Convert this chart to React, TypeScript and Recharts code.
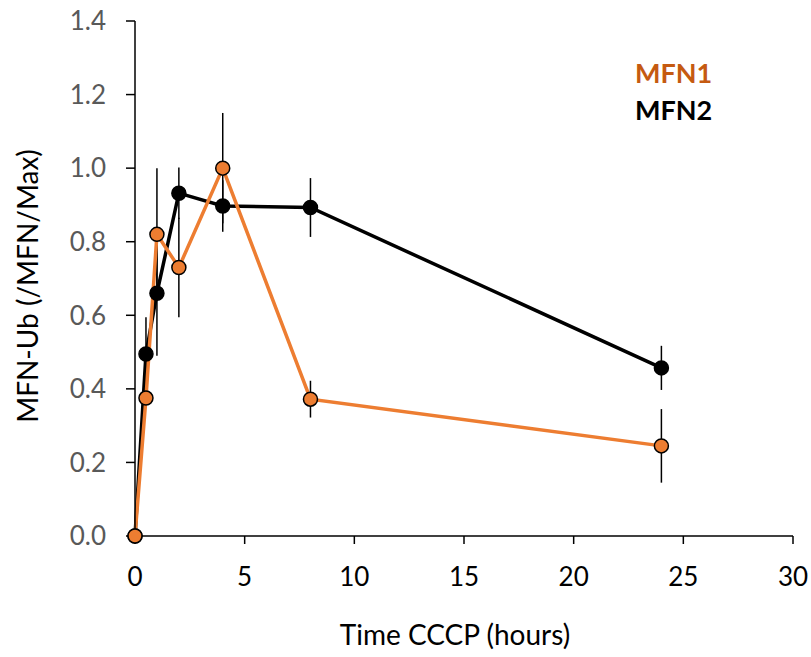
import React from 'react';
import { LineChart, Line, XAxis, YAxis, ErrorBar } from 'recharts';

const timeHours = [0, 0.5, 1, 2, 4, 8, 24];
const mfn1 = [0, 0.375, 0.82, 0.73, 1.0, 0.372, 0.245];
const mfn1Err = [0, 0, 0.18, 0.135, 0.15, 0.05, 0.1];
const mfn2 = [0, 0.495, 0.66, 0.932, 0.897, 0.893, 0.457];
const mfn2Err = [0, 0.1, 0.17, 0.07, 0.07, 0.08, 0.06];
const xTicks = [0, 5, 10, 15, 20, 25, 30];
const yTicks = [0, 0.2, 0.4, 0.6, 0.8, 1.0, 1.2, 1.4];

const FONT = 'Lato, sans-serif';
const ORANGE = '#ED7D31';

const data = timeHours.map((t, i) => ({
    t,
    mfn1: mfn1[i],
    mfn1Err: mfn1Err[i],
    mfn2: mfn2[i],
    mfn2Err: mfn2Err[i],
}));

const dot = (fill: string) => ({ r: 7, fill, stroke: '#000', strokeWidth: 1.5 });

export default function App() {
    return (
        <div style={{ position: 'absolute', left: 0, top: 0, width: 811, height: 657, background: '#fff' }}>
            <LineChart width={811} height={657} data={data} margin={{ top: 21, right: 18, left: 0, bottom: 61 }}>
                <XAxis
                    dataKey="t"
                    type="number"
                    domain={[0, 30]}
                    ticks={xTicks}
                    height={60}
                    stroke="#000"
                    strokeWidth={1.5}
                    tickSize={8}
                    tick={{ fill: '#000', fontSize: 26, fontFamily: FONT }}
                    tickMargin={24}
                    label={{
                        content: () => (
                            <text x={455} y={645} textAnchor="middle" fontSize={28} fontFamily={FONT} fill="#000">
                                Time CCCP (hours)
                            </text>
                        ),
                    }}
                />
                <YAxis
                    type="number"
                    domain={[0, 1.4]}
                    ticks={yTicks}
                    width={135}
                    stroke="#000"
                    strokeWidth={1.5}
                    tickSize={9}
                    tickMargin={20}
                    tickFormatter={(v: number) => v.toFixed(1)}
                    tick={{ fill: '#595959', fontSize: 26, fontFamily: FONT }}
                    label={{
                        content: () => (
                            <text x={38} y={286} transform="rotate(-90 38 286)" textAnchor="middle" fontSize={28} fontFamily={FONT} fill="#000">
                                MFN-Ub (/MFN/Max)
                            </text>
                        ),
                    }}
                />
                <Line dataKey="mfn2" stroke="#000" strokeWidth={3.5} dot={dot('#000')} isAnimationActive={false}>
                    <ErrorBar dataKey="mfn2Err" direction="y" width={0} stroke="#000" strokeWidth={1.5} />
                </Line>
                <Line dataKey="mfn1" stroke={ORANGE} strokeWidth={3.5} dot={dot(ORANGE)} isAnimationActive={false}>
                    <ErrorBar dataKey="mfn1Err" direction="y" width={0} stroke="#000" strokeWidth={1.5} />
                </Line>
            </LineChart>
            <div style={{ position: 'absolute', left: 635, top: 54, fontFamily: FONT, fontWeight: 700, fontSize: 27, lineHeight: '37px' }}>
                <div style={{ color: '#C55A11' }}>MFN1</div>
                <div style={{ color: '#000' }}>MFN2</div>
            </div>
        </div>
    );
}
